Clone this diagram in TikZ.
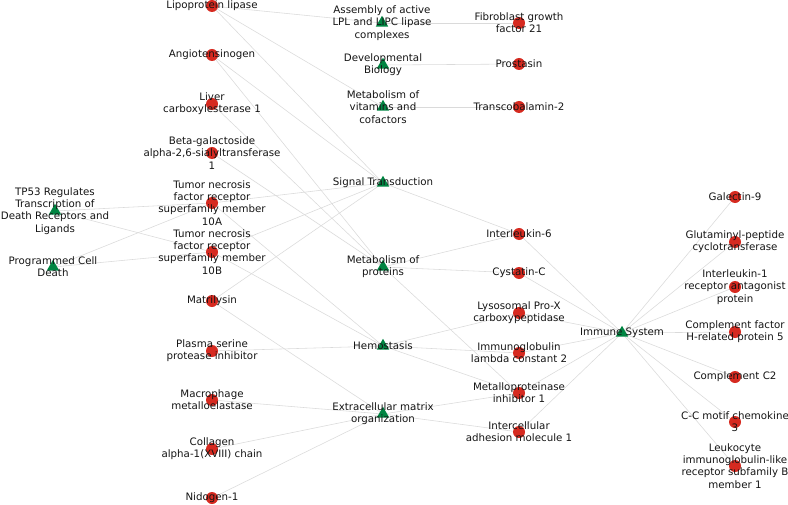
\documentclass[tikz,border=0pt]{standalone}
\usepackage{fontspec}
\setmainfont{DejaVu Sans}
\usetikzlibrary{shapes.geometric, backgrounds}
\definecolor{cProt}{RGB}{214,42,32}
\definecolor{cPath}{RGB}{0,133,66}
\definecolor{cEdge}{RGB}{218,218,218}
\definecolor{cText}{RGB}{20,20,20}
\tikzset{
	prot/.style={circle, fill=cProt, minimum size=0.3cm, inner sep=0pt},
	pway/.style={regular polygon, regular polygon sides=3, fill=cPath, minimum size=0.36cm, inner sep=0pt},
	lbl/.style={align=center, text=cText, font=\fontsize{7.3}{8.7}\selectfont, inner sep=0pt},
	link/.style={draw=cEdge, line width=0.4pt},
}
\begin{document}
\begin{tikzpicture}[x=0.025cm, y=-0.025cm]
\useasboundingbox (0,0) rectangle (788,505);
% pathways (triangles)
\foreach \n/\x/\y/\t in {
	tpdr/55/211/{TP53 Regulates\\Transcription of\\Death Receptors and\\Ligands},
	pcd/53/267/{Programmed Cell\\Death},
	asm/382/23/{Assembly of active\\LPL and LIPC lipase\\complexes},
	dev/383/65/{Developmental\\Biology},
	vit/383/107/{Metabolism of\\vitamins and\\cofactors},
	sig/383/183/{Signal Transduction},
	mprot/383/267/{Metabolism of\\proteins},
	hemo/383/346/{Hemostasis},
	ecm/383/414/{Extracellular matrix\\organization},
	imm/622/333/{Immune System}}
	{\node[pway] (\n) at (\x,\y) {};
	 \node[lbl] (\n-l) at (\n.center) {\t};}
% proteins (circles)
\foreach \n/\x/\y/\t in {
	lpl/212/6/{Lipoprotein lipase},
	agt/212/55/{Angiotensinogen},
	ces/212/104/{Liver\\carboxylesterase 1},
	stsia/212/153/{Beta-galactoside\\alpha-2,6-sialyltransferase\\1},
	tnfa/212/203/{Tumor necrosis\\factor receptor\\superfamily member\\10A},
	tnfb/212/252/{Tumor necrosis\\factor receptor\\superfamily member\\10B},
	mmpvii/212/301/{Matrilysin},
	serp/212/351/{Plasma serine\\protease inhibitor},
	mmpxii/212/400/{Macrophage\\metalloelastase},
	col/212/449/{Collagen\\alpha-1(XVIII) chain},
	nid/212/498/{Nidogen-1},
	fgf/519/23/{Fibroblast growth\\factor 21},
	prss/519/64/{Prostasin},
	tcn/519/107/{Transcobalamin-2},
	ilvi/519/234/{Interleukin-6},
	cst/519/273/{Cystatin-C},
	prcp/519/313/{Lysosomal Pro-X\\carboxypeptidase},
	igl/519/353/{Immunoglobulin\\lambda constant 2},
	timp/519/393/{Metalloproteinase\\inhibitor 1},
	icam/519/432/{Intercellular\\adhesion molecule 1},
	gal/735/197/{Galectin-9},
	qpct/735/242/{Glutaminyl-peptide\\cyclotransferase},
	ilra/735/287/{Interleukin-1\\receptor antagonist\\protein},
	cfhr/735/332/{Complement factor\\H-related protein 5},
	ctwo/735/377/{Complement C2},
	ccl/735/422/{C-C motif chemokine\\3},
	lilr/735/466/{Leukocyte\\immunoglobulin-like\\receptor subfamily B\\member 1}}
	{\node[prot] (\n) at (\x,\y) {};
	 \node[lbl] (\n-l) at (\n.center) {\t};}
% connectors
\begin{scope}[on background layer]
\foreach \a/\b in {tpdr/tnfa, tpdr/tnfb, pcd/tnfa, pcd/tnfb,
	lpl/asm, fgf/asm, lpl/vit, tcn/vit, prss/dev,
	lpl/sig, agt/sig, tnfa/sig, tnfb/sig, mmpvii/sig, ilvi/sig,
	agt/mprot, ces/mprot, stsia/mprot, ilvi/mprot, cst/mprot, timp/mprot,
	serp/hemo, tnfa/hemo, tnfb/hemo, prcp/hemo, igl/hemo, timp/hemo,
	mmpvii/ecm, mmpxii/ecm, col/ecm, nid/ecm, timp/ecm, icam/ecm,
	ilvi/imm, cst/imm, prcp/imm, igl/imm, timp/imm, icam/imm,
	gal/imm, qpct/imm, ilra/imm, cfhr/imm, ctwo/imm, ccl/imm, lilr/imm}
	\draw[link] (\a.center) -- (\b.center);
\end{scope}
\end{tikzpicture}
\end{document}
